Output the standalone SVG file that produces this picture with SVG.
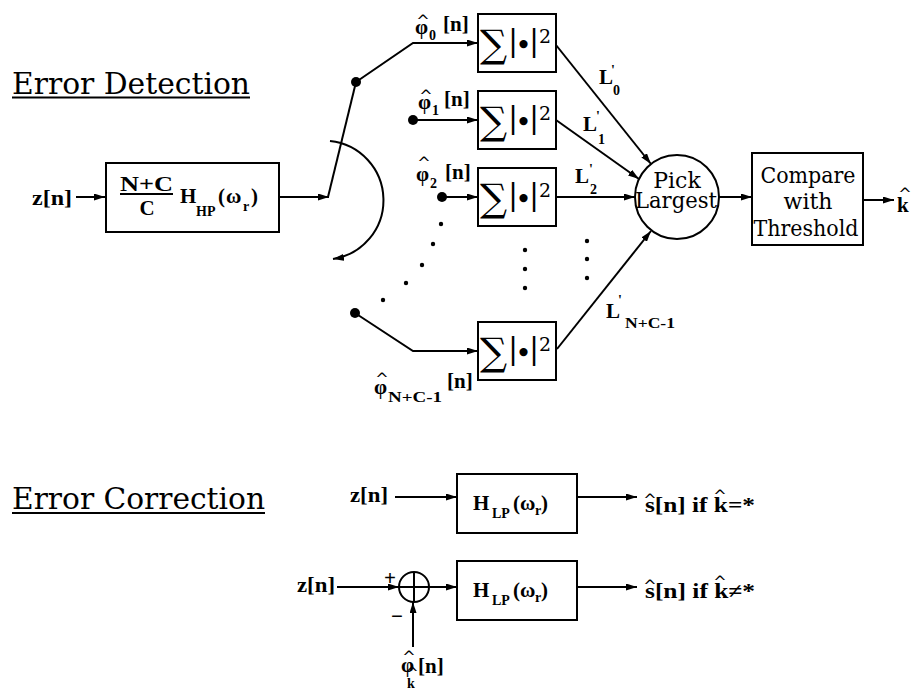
<svg xmlns="http://www.w3.org/2000/svg" width="916" height="696" viewBox="0 0 916 696">
<style>
  .ln{fill:none;stroke:#000;stroke-width:2}
  .bx{fill:#fff;stroke:#000;stroke-width:2}
  .ttl{font-family:'DejaVu Serif',serif;font-size:30px}
  .rm{font-family:'DejaVu Serif',serif;font-size:22px;text-anchor:middle}
  .b{font-family:'Liberation Serif',serif;font-weight:bold;font-size:21px}
  .sb{font-family:'Liberation Serif',serif;font-weight:bold;font-size:14px}
  .hat{font-family:'DejaVu Sans',sans-serif;font-size:16px;text-anchor:middle}
  .sig{font-family:'DejaVu Serif',serif;font-size:38px}
  .bar{font-family:'DejaVu Serif',serif;font-size:30px;text-anchor:middle}
  .blt{font-family:'DejaVu Serif',serif;font-size:28px;text-anchor:middle}
  .sq{font-family:'DejaVu Serif',serif;font-size:19px}
</style>
<defs>
  <marker id="ah" viewBox="0 0 11 7" refX="11" refY="3.5" markerWidth="11" markerHeight="7" orient="auto" markerUnits="userSpaceOnUse">
    <path d="M0,0 L11,3.5 L0,7 z" fill="#000"/>
  </marker>
</defs>
<rect width="916" height="696" fill="#fff"/>

<!-- section headings -->
<g id="heading-detection">
  <text class="ttl" x="12" y="94" textLength="238" lengthAdjust="spacingAndGlyphs">Error Detection</text>
  <line class="ln" x1="12" y1="97.5" x2="250" y2="97.5" stroke-width="1.6"/>
</g>
<g id="heading-correction">
  <text class="ttl" x="12" y="509" textLength="253" lengthAdjust="spacingAndGlyphs">Error Correction</text>
  <line class="ln" x1="12" y1="513" x2="265" y2="513" stroke-width="1.6"/>
</g>

<!-- connectors -->
<g id="connectors">
  <line class="ln" x1="76" y1="197" x2="105" y2="197" marker-end="url(#ah)"/>
  <line class="ln" x1="279" y1="197" x2="329" y2="197" marker-end="url(#ah)"/>
  <!-- switch blade -->
  <line class="ln" x1="328" y1="197" x2="356" y2="82"/>
  <!-- rotation arrow -->
  <path class="ln" d="M330,141 A59.5,59.5 0 0 1 333,259" marker-end="url(#ah)"/>
  <!-- branch inputs -->
  <polyline class="ln" points="356,82 413,43 478,43" marker-end="url(#ah)"/>
  <line class="ln" x1="413" y1="120" x2="478" y2="120" marker-end="url(#ah)"/>
  <line class="ln" x1="442" y1="197" x2="478" y2="197" marker-end="url(#ah)"/>
  <polyline class="ln" points="355,313 413,351 478,351" marker-end="url(#ah)"/>
  <!-- energies into selector -->
  <line class="ln" x1="556" y1="45" x2="651" y2="164" marker-end="url(#ah)"/>
  <line class="ln" x1="556" y1="120" x2="639" y2="179" marker-end="url(#ah)"/>
  <line class="ln" x1="556" y1="197" x2="635" y2="197" marker-end="url(#ah)"/>
  <line class="ln" x1="557" y1="349" x2="651" y2="231" marker-end="url(#ah)"/>
  <line class="ln" x1="719" y1="197" x2="752" y2="197" marker-end="url(#ah)"/>
  <line class="ln" x1="863" y1="200" x2="894" y2="200" marker-end="url(#ah)"/>
  <!-- correction paths -->
  <line class="ln" x1="395" y1="497" x2="457" y2="497" marker-end="url(#ah)"/>
  <line class="ln" x1="577" y1="497" x2="637" y2="497" marker-end="url(#ah)"/>
  <line class="ln" x1="337" y1="587" x2="399" y2="587" marker-end="url(#ah)"/>
  <line class="ln" x1="413" y1="647" x2="413" y2="602" marker-end="url(#ah)"/>
  <line class="ln" x1="429" y1="587" x2="457" y2="587" marker-end="url(#ah)"/>
  <line class="ln" x1="577" y1="587" x2="637" y2="587" marker-end="url(#ah)"/>
</g>

<!-- input -->
<g id="input">
  <text class="b" x="32" y="205" textLength="40" lengthAdjust="spacingAndGlyphs">z[n]</text>
</g>

<!-- highpass filter -->
<g id="hp-filter">
  <rect class="bx" x="106" y="163" width="173" height="69"/>
  <text class="b" x="120" y="191" font-size="22" textLength="53" lengthAdjust="spacingAndGlyphs">N+C</text>
  <line class="ln" x1="120" y1="194" x2="173" y2="194" stroke-width="1.6"/>
  <text class="b" x="147" y="215" font-size="22" text-anchor="middle">C</text>
  <text class="b" x="180" y="203" font-size="22">H</text>
  <text class="sb" x="196" y="216" font-size="13">HP</text>
  <text class="b" x="218" y="203" font-size="22">(</text>
  <text class="b" x="226" y="203" font-size="25">ω</text>
  <text class="sb" x="243" y="211" font-size="13">r</text>
  <text class="b" x="251" y="203" font-size="22">)</text>
</g>

<!-- branch selector switch -->
<g id="switch">
  <circle cx="356" cy="82" r="5"/>
  <circle cx="413" cy="120" r="5"/>
  <circle cx="442" cy="197" r="5"/>
  <circle cx="355" cy="313" r="5"/>
  <circle cx="441" cy="224" r="2.2"/>
  <circle cx="433" cy="244" r="2.2"/>
  <circle cx="422" cy="265" r="2.2"/>
  <circle cx="406" cy="283" r="2.2"/>
  <circle cx="383" cy="300" r="2.2"/>
</g>

<!-- branch labels -->
<g id="label-phi0">
  <text class="hat" x="423" y="26">^</text>
  <text class="b" x="415" y="34" font-size="25">φ</text>
  <text class="sb" x="429" y="40">0</text>
  <text class="b" x="443" y="31" font-size="20">[n]</text>
</g>
<g id="label-phi1">
  <text class="hat" x="426" y="101">^</text>
  <text class="b" x="418" y="109" font-size="25">φ</text>
  <text class="sb" x="432" y="115">1</text>
  <text class="b" x="444" y="106" font-size="20">[n]</text>
</g>
<g id="label-phi2">
  <text class="hat" x="424" y="168">^</text>
  <text class="b" x="416" y="181" font-size="25">φ</text>
  <text class="sb" x="430" y="188">2</text>
  <text class="b" x="445" y="179" font-size="20">[n]</text>
</g>
<g id="label-phiN">
  <text class="hat" x="382" y="384">^</text>
  <text class="b" x="374" y="394" font-size="25">φ</text>
  <text class="sb" x="388" y="402" textLength="54" lengthAdjust="spacingAndGlyphs">N+C-1</text>
  <text class="b" x="447" y="388" font-size="20">[n]</text>
</g>

<!-- energy blocks: sum of squared magnitudes -->
<g id="energy0">
  <rect class="bx" x="478" y="14" width="78" height="58"/>
  <text class="sig" x="480" y="57">∑</text>
  <text class="bar" x="513" y="51">|</text>
  <text class="blt" x="523.5" y="55">•</text>
  <text class="bar" x="534" y="51">|</text>
  <text class="sq" x="539" y="43">2</text>
</g>
<g id="energy1">
  <rect class="bx" x="478" y="91" width="78" height="58"/>
  <text class="sig" x="480" y="134">∑</text>
  <text class="bar" x="513" y="128">|</text>
  <text class="blt" x="523.5" y="132">•</text>
  <text class="bar" x="534" y="128">|</text>
  <text class="sq" x="539" y="120">2</text>
</g>
<g id="energy2">
  <rect class="bx" x="478" y="168" width="78" height="58"/>
  <text class="sig" x="480" y="211">∑</text>
  <text class="bar" x="513" y="205">|</text>
  <text class="blt" x="523.5" y="209">•</text>
  <text class="bar" x="534" y="205">|</text>
  <text class="sq" x="539" y="197">2</text>
</g>
<g id="energyN">
  <rect class="bx" x="478" y="322" width="78" height="58"/>
  <text class="sig" x="480" y="365">∑</text>
  <text class="bar" x="513" y="359">|</text>
  <text class="blt" x="523.5" y="363">•</text>
  <text class="bar" x="534" y="359">|</text>
  <text class="sq" x="539" y="351">2</text>
  <circle cx="525" cy="250" r="2.2"/>
  <circle cx="525" cy="269" r="2.2"/>
  <circle cx="525" cy="288" r="2.2"/>
</g>

<!-- energy labels -->
<g id="energy-labels">
  <text class="b" x="599" y="84" font-size="20">L</text>
  <text class="sb" x="611" y="75">'</text>
  <text class="sb" x="613" y="95">0</text>
  <text class="b" x="583" y="131" font-size="20">L</text>
  <text class="sb" x="596" y="121">'</text>
  <text class="sb" x="598" y="144">1</text>
  <text class="b" x="575" y="183" font-size="20">L</text>
  <text class="sb" x="589" y="174">'</text>
  <text class="sb" x="590" y="194">2</text>
  <text class="b" x="606" y="318" font-size="20">L</text>
  <text class="sb" x="618" y="305">'</text>
  <text class="sb" x="625" y="328" textLength="50" lengthAdjust="spacingAndGlyphs">N+C-1</text>
  <circle cx="587" cy="241" r="2.2"/>
  <circle cx="587" cy="259" r="2.2"/>
  <circle cx="587" cy="278" r="2.2"/>
</g>

<!-- selector -->
<g id="pick-largest">
  <circle class="bx" cx="677" cy="197" r="42"/>
  <text class="rm" x="677" y="188">Pick</text>
  <text class="rm" x="676" y="208" textLength="82" lengthAdjust="spacingAndGlyphs">Largest</text>
</g>

<!-- threshold test -->
<g id="compare">
  <rect class="bx" x="752" y="153" width="111" height="92"/>
  <text class="rm" x="808" y="183" textLength="95" lengthAdjust="spacingAndGlyphs">Compare</text>
  <text class="rm" x="808" y="209">with</text>
  <text class="rm" x="806" y="236" textLength="105" lengthAdjust="spacingAndGlyphs">Threshold</text>
</g>

<g id="k-hat">
  <text class="hat" x="905" y="199">^</text>
  <text class="b" x="897" y="212" font-size="23">k</text>
</g>

<!-- correction, no error -->
<g id="lp-row1">
  <text class="b" x="350" y="502" textLength="38" lengthAdjust="spacingAndGlyphs">z[n]</text>
  <rect class="bx" x="457" y="474" width="120" height="59"/>
  <text class="b" x="473" y="510" font-size="23">H</text>
  <text class="sb" x="492" y="518">LP</text>
  <text class="b" x="513" y="510" font-size="21">(ω</text>
  <text class="sb" x="535" y="515" font-size="12">r</text>
  <text class="b" x="541" y="510" font-size="21">)</text>
  <text class="hat" x="650" y="505">^</text>
  <text class="b" x="645" y="512" textLength="110" lengthAdjust="spacingAndGlyphs">s[n] if k=*</text>
  <text class="hat" x="720" y="501">^</text>
</g>

<!-- correction, error removed -->
<g id="lp-row2">
  <text class="b" x="297" y="592" textLength="38" lengthAdjust="spacingAndGlyphs">z[n]</text>
  <text class="b" x="390" y="585" text-anchor="middle" font-size="26">+</text>
  <text class="b" x="397" y="623" text-anchor="middle" font-size="26">−</text>
  <rect class="bx" x="457" y="561" width="120" height="59"/>
  <text class="b" x="473" y="597" font-size="23">H</text>
  <text class="sb" x="492" y="605">LP</text>
  <text class="b" x="513" y="597" font-size="21">(ω</text>
  <text class="sb" x="535" y="602" font-size="12">r</text>
  <text class="b" x="541" y="597" font-size="21">)</text>
  <text class="hat" x="650" y="591">^</text>
  <text class="b" x="645" y="598" textLength="110" lengthAdjust="spacingAndGlyphs">s[n] if k≠*</text>
  <text class="hat" x="720" y="587">^</text>
</g>

<g id="adder">
  <circle class="bx" cx="414" cy="587" r="15"/>
  <line class="ln" x1="399" y1="587" x2="429" y2="587"/>
  <line class="ln" x1="414" y1="572" x2="414" y2="602"/>
</g>

<g id="label-phik">
  <text class="hat" x="409" y="662">^</text>
  <text class="b" x="401" y="672" font-size="23">φ</text>
  <text class="hat" x="412" y="678" font-size="12">^</text>
  <text class="sb" x="407" y="688">k</text>
  <text class="b" x="418" y="673" font-size="20">[n]</text>
</g>
</svg>
